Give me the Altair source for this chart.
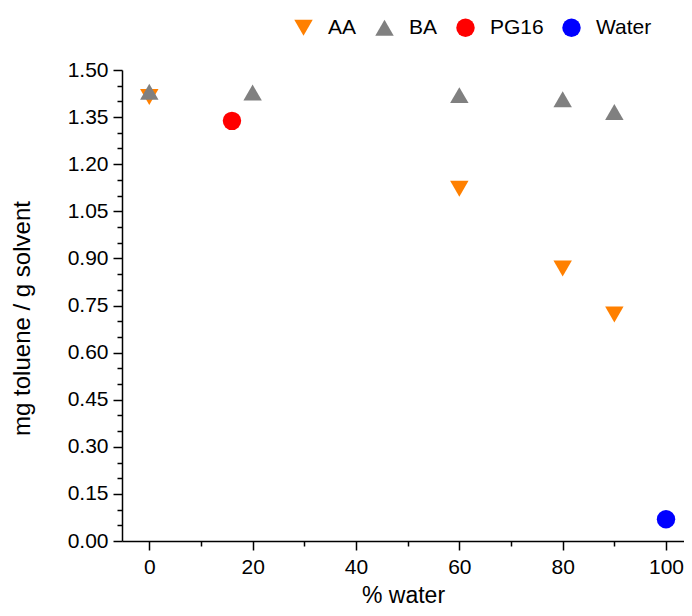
import altair as alt
import pandas as pd

# data
aa_x = [0, 60, 80, 90]
aa_y = [1.414, 1.122, 0.868, 0.721]
ba_x = [0, 20, 60, 80, 90]
ba_y = [1.431, 1.428, 1.420, 1.407, 1.366]
pg_x = [16]
pg_y = [1.338]
water_x = [100]
water_y = [0.069]

series = ["AA", "BA", "PG16", "Water"]
colors = ["#FF8000", "#808080", "#FF0000", "#0000FF"]
shapes = ["triangle-down", "triangle-up", "circle", "circle"]
sizes = [340, 340, 220, 220]

x_major = [0, 20, 40, 60, 80, 100]
x_minor = [10, 30, 50, 70, 90]
y_major = [round(0.15 * i, 2) for i in range(11)]
y_minor = [round(0.05 * i, 2) for i in range(31) if i % 3 != 0]

rows = []
for name, xs, ys in [("AA", aa_x, aa_y), ("BA", ba_x, ba_y),
                     ("PG16", pg_x, pg_y), ("Water", water_x, water_y)]:
    for a, b in zip(xs, ys):
        rows.append({"x": a, "y": b, "series": name})
df = pd.DataFrame(rows)

FONT = "Liberation Sans"
xscale = alt.Scale(domain=[-5.28, 103.48], nice=False, zero=False)
yscale = alt.Scale(domain=[0, 1.5], nice=False, zero=False)


def leg():
    return alt.Legend(title=None, orient="none", direction="horizontal",
                      legendX=171, legendY=-53, columns=4,
                      labelOffset=14, columnPadding=17,
                      labelFontSize=21, labelFont=FONT, labelColor="#000000")


main = alt.Chart(df).mark_point(filled=True, opacity=1, strokeWidth=0).encode(
    x=alt.X("x:Q", scale=xscale, axis=alt.Axis(
        values=x_major, title="% water", grid=False, tickSize=9, tickWidth=1.5,
        domainWidth=1.5, labelPadding=6, format="d",
        titleY=61, titleBaseline="alphabetic")),
    y=alt.Y("y:Q", scale=yscale, axis=alt.Axis(
        values=y_major, title="mg toluene / g solvent", grid=False, tickSize=9,
        tickWidth=1.5, domainWidth=1.5, labelPadding=5, format=".2f",
        titleX=-100, titleY=248, titleAngle=-90, titleAlign="center",
        titleBaseline="middle", titleFontSize=24)),
    color=alt.Color("series:N", scale=alt.Scale(domain=series, range=colors), legend=leg()),
    shape=alt.Shape("series:N", scale=alt.Scale(domain=series, range=shapes), legend=leg()),
    size=alt.Size("series:N", scale=alt.Scale(domain=series, range=sizes), legend=leg()),
)

minor = alt.Chart(df).mark_point(opacity=0).encode(
    x=alt.X("x:Q", scale=xscale, axis=alt.Axis(
        values=x_minor, orient="bottom", labels=False, domain=False, title=None,
        grid=False, tickSize=5, tickWidth=1.5)),
    y=alt.Y("y:Q", scale=yscale, axis=alt.Axis(
        values=y_minor, orient="left", labels=False, domain=False, title=None,
        grid=False, tickSize=5, tickWidth=1.5)),
)

chart = alt.layer(main, minor).resolve_axis(
    x="independent", y="independent"
).properties(
    width=562, height=471,
    autosize=alt.AutoSizeParams(type="none"),
    padding={"left": 114, "top": 62, "right": 0, "bottom": 67},
).configure_view(stroke=None).configure_axis(
    labelFont=FONT, titleFont=FONT, labelFontSize=21, titleFontSize=23,
    labelColor="#000000", titleColor="#000000", domainColor="#000000",
    tickColor="#000000", titleFontWeight="normal",
)

chart.save("out.html", embed_options={"renderer": "svg", "actions": False})
